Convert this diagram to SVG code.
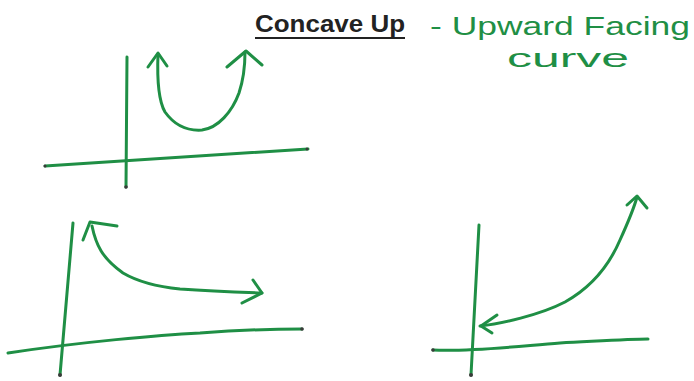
<svg xmlns="http://www.w3.org/2000/svg" width="694" height="381" viewBox="0 0 694 381">
<style>
.ink{fill:none;stroke:#1f8f45;stroke-width:3;stroke-linecap:round;stroke-linejoin:round}
.dot{fill:#3a3a3a}
.hand{font-family:"Liberation Sans",Arial,sans-serif;fill:#1f8f45}
.title{font-family:"Liberation Sans",Arial,sans-serif;font-weight:bold;font-size:24px;fill:#222}
</style>
<rect width="694" height="381" fill="#fff"/>
<g id="title">
<text class="title" x="255" y="32" textLength="150" lengthAdjust="spacingAndGlyphs">Concave Up</text>
<line x1="255" y1="38" x2="405" y2="38" stroke="#222" stroke-width="2"/>
</g>
<g id="note">
<text class="hand" x="430" y="35" font-size="26" textLength="260" lengthAdjust="spacingAndGlyphs">- Upward Facing</text>
<text class="hand" x="507" y="67" font-size="26" textLength="122" lengthAdjust="spacingAndGlyphs">curve</text>
</g>
<g id="plot-top">
<path class="ink" d="M127 57 L126 187"/>
<path class="ink" d="M45 166 L308 149"/>
<path class="ink" d="M158 54 C157 80 158 100 165 112 C175 126 188 131 202 130 C218 128 232 112 239 93 C244 78 245 64 245 52"/>
<path class="ink" d="M148 67 L158 53 L167 66"/>
<path class="ink" d="M227 67 L246 51 L262 65"/>
<circle class="dot" cx="126" cy="187" r="1.8"/>
<circle class="dot" cx="45" cy="166" r="1.5"/>
<circle class="dot" cx="307" cy="149" r="1.5"/>
</g>
<g id="plot-bottom-left">
<path class="ink" d="M73 223 L60 375"/>
<path class="ink" d="M8 353 C80 342 160 335 200 333 C240 330 275 329 302 329"/>
<path class="ink" d="M92 226 C96 245 102 258 123 273 C140 283 160 287 180 289 C210 291 235 292 262 293"/>
<path class="ink" d="M83 240 L90 222 L117 226"/>
<path class="ink" d="M253 280 L262 293 L242 303"/>
<circle class="dot" cx="60" cy="375" r="2"/>
<circle class="dot" cx="302" cy="329" r="1.8"/>
</g>
<g id="plot-bottom-right">
<path class="ink" d="M479 225 L471 375"/>
<path class="ink" d="M433 350 C470 352 520 346 560 343 C600 341 630 339 648 339"/>
<path class="ink" d="M480 326 C500 324 540 315 565 302 C590 288 608 268 620 240 C630 218 634 208 637 197"/>
<path class="ink" d="M497 315 L481 326 L492 333"/>
<path class="ink" d="M627 205 L637 196 L647 208"/>
<circle class="dot" cx="471" cy="375" r="2"/>
<circle class="dot" cx="433" cy="350" r="1.8"/>
</g>
</svg>
